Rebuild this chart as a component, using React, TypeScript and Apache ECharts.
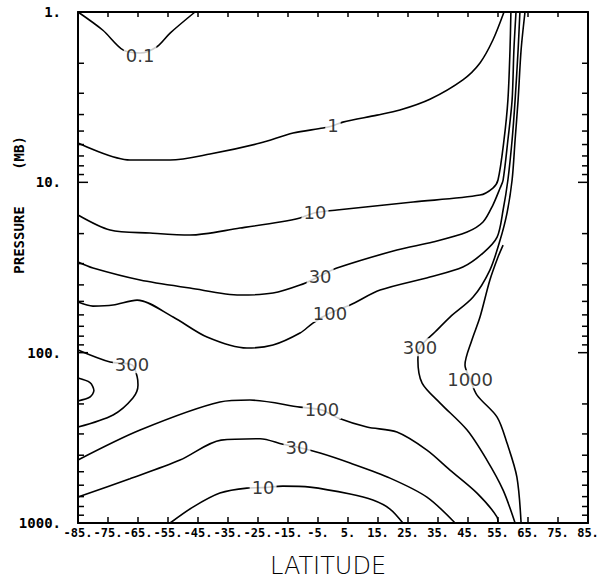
import React, { useEffect, useRef } from "react";
import * as echarts from "echarts";

// Axis extents / ticks
const LAT_MIN = -85;
const LAT_MAX = 85;
const LAT_STEP = 10;
const P_MIN = 1;
const P_MAX = 1000;
const pMinorTicks = [2, 3, 4, 5, 6, 7, 8, 9, 20, 30, 40, 50, 60, 70, 80, 90, 200, 300, 400, 500, 600, 700, 800, 900];
const pMajorTicks = [10, 100];

// Contours: [latitude, pressure (mb)]
const c01 = [[-85, 1], [-76.7, 1.28], [-70, 1.67], [-64.3, 1.74], [-58.7, 1.6], [-54.3, 1.33], [-46, 1]];
const c1 = [[-85, 5.88], [-67.7, 7.4], [-54.3, 7.4], [-41, 6.82], [-24.3, 5.88], [-13.3, 5.13], [-3.3, 4.8], [0, 4.65], [3.3, 4.43], [14.7, 4.03], [22.3, 3.76], [32.3, 3.25], [43.3, 2.5], [49, 1.99], [53.3, 1.46], [57, 1]];
const c10 = [[-85, 15.56], [-74.3, 19.06], [-61, 19.85], [-47.7, 20.39], [-31, 18.55], [-17.7, 17.11], [-11, 16.2], [-6, 15.1], [1.3, 14.54], [26.7, 13.05], [49, 11.88], [53.3, 10.8], [55, 9.69], [57, 5.64], [58.3, 3.29], [59, 1.67], [59.3, 1]];
const c30 = [[-85, 29.38], [-80, 31.86], [-64.3, 37.47], [-47.7, 41.76], [-31, 45.89], [-20, 44.67], [-11, 40.1], [-4.3, 35.5], [1.3, 31.86], [21.3, 24.97], [33.3, 22.41], [44.7, 19.58], [50, 17.11], [53.3, 13.59], [55.7, 10.8], [56.7, 9.69], [58.3, 5.64], [59.7, 3.29], [60.3, 1.67], [61, 1]];
const c100 = [[-85, 50.46], [-80, 53.27], [-73.3, 52.55], [-65.3, 49.12], [-53.3, 61.8], [-42, 80.99], [-28.7, 93.98], [-20, 90.23], [-11, 76.72], [-6.7, 67.03], [-1, 58.56], [5.7, 52.55], [15.7, 42.91], [32.3, 35.98], [43.3, 31.43], [50, 26.01], [54.7, 20.96], [56.7, 14.54], [58.3, 9.69], [59.7, 5.64], [60.7, 3.29], [61.7, 1.67], [62.3, 1]];
const c300L = [[-85, 96.5], [-74.3, 113.6], [-67, 118], [-65.3, 138], [-65, 155], [-66.7, 184.8], [-73.3, 232.4], [-85, 273.5]];
const c1000L = [[-85, 141], [-81, 150], [-79.7, 167], [-81, 182], [-85, 192]];
const c300R = [[64, 1], [62.7, 1.67], [61.7, 3.29], [60.7, 5.64], [59.7, 9.69], [58, 15.15], [55.7, 21.83], [52.3, 32.73], [46.7, 47.16], [39, 61.8], [34, 75.68], [29, 92.7], [28.3, 110.5], [29.7, 150.9], [35.7, 197.7], [44.7, 284.8], [51.3, 427.2], [56.7, 641], [60.7, 1000]];
const c1000R = [[56.7, 23.35], [55, 27.46], [52.3, 37.47], [49, 61.8], [46.3, 84.3], [44, 118], [45.7, 142.9], [48, 177.5], [54.7, 238.9], [58, 339.6], [61.3, 537.8], [62.7, 1000]];
const c100B = [[-85, 427], [-64.3, 284.8], [-37.7, 195], [-27.7, 189.8], [-11, 208.7], [-3.7, 217.3], [1.7, 242.1], [11.3, 273.5], [21.3, 292.6], [31.3, 373.3], [39, 489.2], [48, 667.6], [54.7, 923], [55, 1000]];
const c30B = [[-85, 704.7], [-67.7, 550], [-51, 427], [-37.3, 326], [-24.3, 320], [-16.7, 345], [-12, 358.4], [-4.3, 388.7], [5.7, 444.9], [19, 545.1], [31.3, 704.7], [40.7, 1000]];
const c10B = [[-54.3, 1000], [-46.7, 806.9], [-37.7, 667.6], [-28.7, 624], [-23.3, 620], [-16.7, 607.4], [-7.7, 615.6], [5.7, 676], [13.3, 734], [19, 828], [23.3, 1000]];

// Contour labels
const labelTexts = ["0.1", "1", "10", "30", "100", "300", "300", "1000", "100", "30", "10"];
const labelLats = [-64.3, 0, -6, -4.3, -1, -67, 29, 45.7, -3.7, -12, -23.3];
const labelPressures = [1.79, 4.65, 15, 35.5, 58.5, 117, 93, 143, 217, 358, 620];

const contours = [c01, c1, c10, c30, c100, c300L, c1000L, c300R, c1000R, c100B, c30B, c10B];

const MONO = '"DejaVu Sans Mono", monospace';

export default function App() {
  const ref = useRef<HTMLDivElement>(null);
  useEffect(() => {
    const chart = echarts.init(ref.current as HTMLDivElement, null, { renderer: "svg" });
    const tickData = [
      ...pMinorTicks.map((p) => [LAT_MIN, p, 0]),
      ...pMajorTicks.map((p) => [LAT_MIN, p, 1]),
    ];
    const axisLine = { show: true, onZero: false, lineStyle: { color: "#000", width: 2 } };
    const option: any = {
      animation: false,
      backgroundColor: "#fff",
      grid: { left: 78, right: 19, top: 12, bottom: 57 },
      xAxis: [
        {
          type: "value",
          min: LAT_MIN,
          max: LAT_MAX,
          interval: LAT_STEP,
          axisLine,
          axisTick: { show: true, inside: true, length: 6, lineStyle: { color: "#000", width: 1.5 } },
          axisLabel: {
            show: true,
            showMinLabel: true,
            showMaxLabel: true,
            hideOverlap: false,
            margin: 4,
            color: "#000",
            fontFamily: MONO,
            fontWeight: "bold",
            fontSize: 12,
            formatter: (v: number) => `${Math.round(v)}.`,
          },
          splitLine: { show: false },
        },
        {
          type: "value",
          position: "top",
          min: LAT_MIN,
          max: LAT_MAX,
          interval: LAT_STEP,
          axisLine,
          axisTick: { show: true, inside: true, length: 5, lineStyle: { color: "#000", width: 1.5 } },
          axisLabel: { show: false },
          splitLine: { show: false },
        },
      ],
      yAxis: [
        {
          type: "log",
          logBase: 10,
          min: P_MIN,
          max: P_MAX,
          inverse: true,
          position: "left",
          axisLine,
          axisTick: { show: false },
          axisLabel: {
            show: true,
            showMinLabel: true,
            showMaxLabel: true,
            margin: 17,
            color: "#000",
            fontFamily: MONO,
            fontWeight: "bold",
            fontSize: 14,
            formatter: (v: number) => `${Math.round(v)}.`,
          },
          splitLine: { show: false },
        },
        {
          type: "log",
          logBase: 10,
          min: P_MIN,
          max: P_MAX,
          inverse: true,
          position: "right",
          axisLine,
          axisTick: { show: false },
          axisLabel: { show: false },
          splitLine: { show: false },
        },
      ],
      graphic: [
        {
          type: "text",
          x: 328,
          y: 566,
          style: {
            text: "LATITUDE",
            fill: "#000",
            fontFamily: '"DejaVu Sans"',
            fontWeight: 200,
            fontSize: 24,
            align: "center",
            verticalAlign: "middle",
          },
        },
        {
          type: "text",
          x: 19,
          y: 240,
          rotation: Math.PI / 2,
          style: {
            text: "PRESSURE",
            fill: "#000",
            fontFamily: MONO,
            fontWeight: "bold",
            fontSize: 14,
            align: "center",
            verticalAlign: "middle",
          },
        },
        {
          type: "text",
          x: 19,
          y: 153,
          rotation: Math.PI / 2,
          style: {
            text: "(MB)",
            fill: "#000",
            fontFamily: MONO,
            fontWeight: "bold",
            fontSize: 14,
            align: "center",
            verticalAlign: "middle",
          },
        },
      ],
      series: [
        ...contours.map((c, i) => ({
          type: "line",
          name: `contour${i}`,
          data: c,
          smooth: 0.3,
          showSymbol: false,
          symbol: "none",
          silent: true,
          z: 2,
          lineStyle: { color: "#000", width: 1.6 },
        })),
        {
          type: "custom",
          silent: true,
          clip: false,
          z: 5,
          data: tickData,
          renderItem: (params: any, api: any) => {
            const p = api.value(1);
            const major = api.value(2) === 1;
            const len = major ? 10 : 6;
            const l = api.coord([LAT_MIN, p]);
            const r = api.coord([LAT_MAX, p]);
            return {
              type: "group",
              children: [
                { type: "line", shape: { x1: l[0], y1: l[1], x2: l[0] + len, y2: l[1] }, style: { stroke: "#000", lineWidth: 1.5 } },
                { type: "line", shape: { x1: r[0] - len, y1: r[1], x2: r[0], y2: r[1] }, style: { stroke: "#000", lineWidth: 1.5 } },
              ],
            };
          },
        },
        {
          type: "scatter",
          silent: true,
          z: 10,
          symbolSize: 1,
          itemStyle: { color: "rgba(0,0,0,0)" },
          data: labelTexts.map((t, i) => ({ name: t, value: [labelLats[i], labelPressures[i]] })),
          label: {
            show: true,
            position: "inside",
            formatter: (p: any) => p.name,
            color: "#000",
            fontFamily: '"DejaVu Sans"',
            fontSize: 18,
            backgroundColor: "#fff",
            padding: [0, 2],
          },
        },
      ],
    };
    chart.setOption(option);
    return () => chart.dispose();
  }, []);
  return (
    <div
      ref={ref}
      style={{ position: "fixed", left: 0, top: 0, width: 607, height: 580, background: "#fff" }}
    />
  );
}
